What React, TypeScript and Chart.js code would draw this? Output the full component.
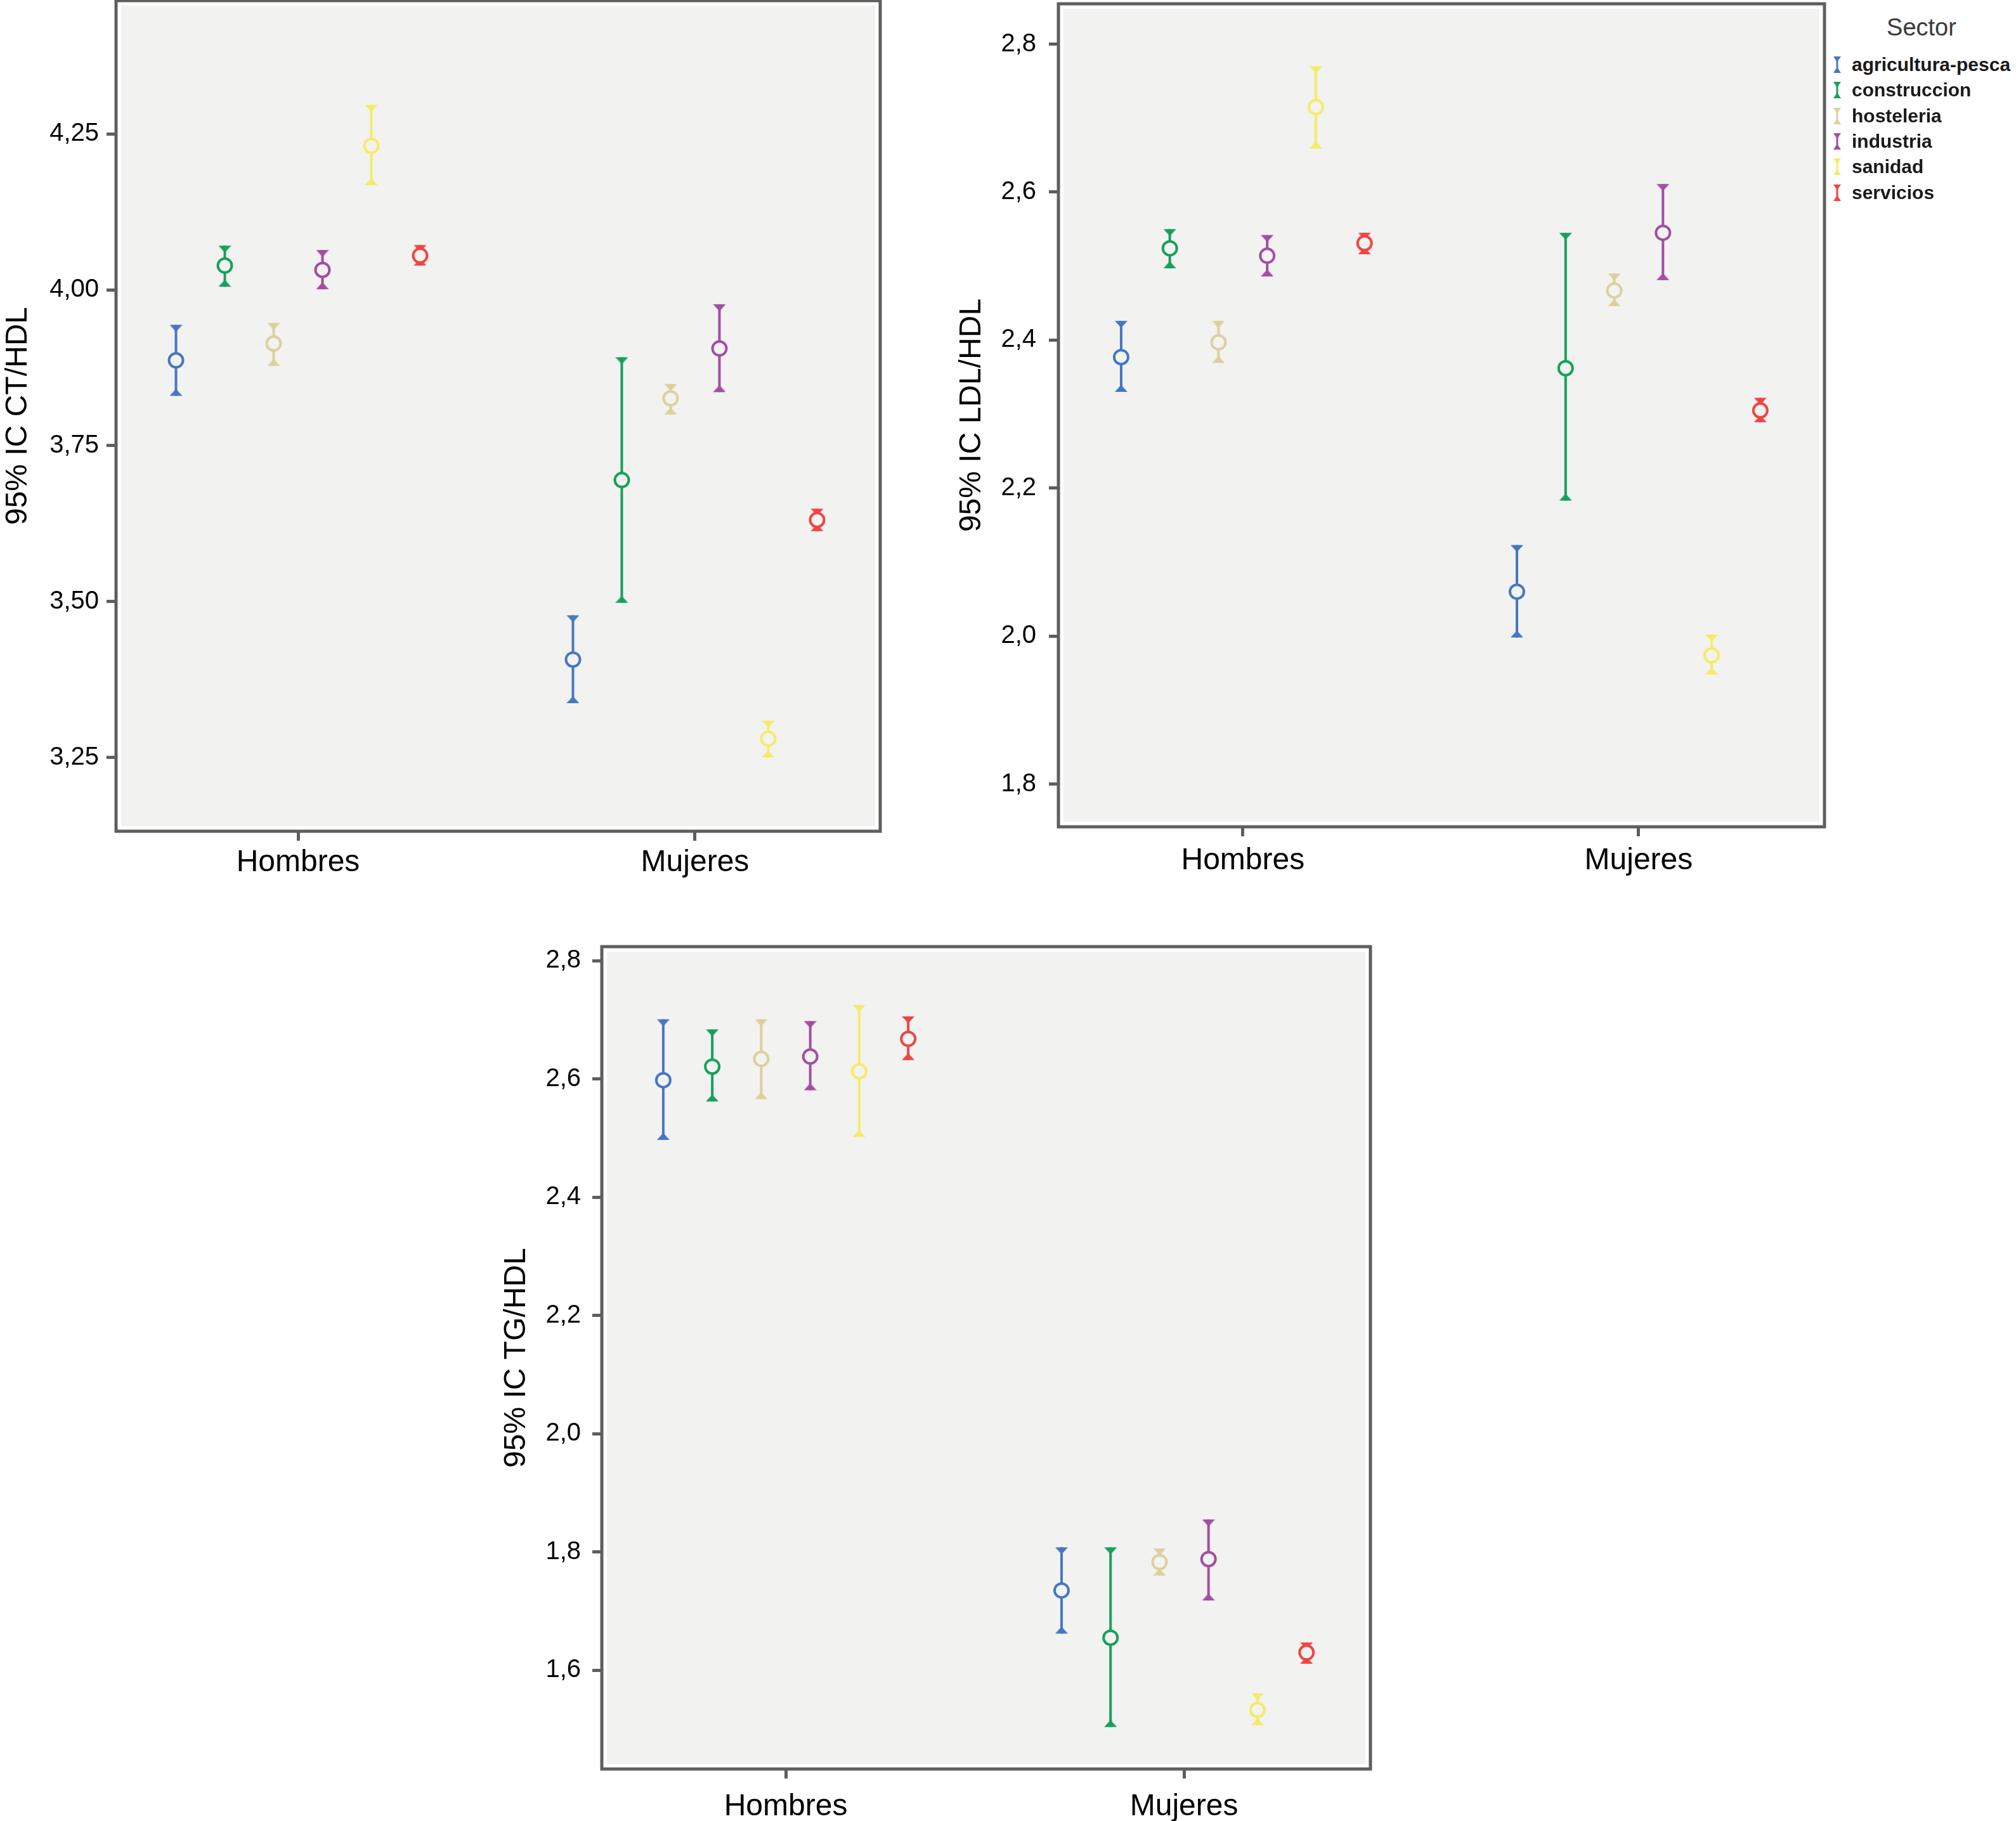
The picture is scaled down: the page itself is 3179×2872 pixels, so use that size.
import React, { useEffect, useRef } from 'react';
import { Chart, registerables } from 'chart.js';

Chart.register(...registerables);

// ---------- data ----------
const sectors = ['agricultura-pesca', 'construccion', 'hosteleria', 'industria', 'sanidad', 'servicios'];
const sexCategories = ['Hombres', 'Mujeres'];
const sectorColors = ['#4676c4', '#17a05c', '#ddd09e', '#a24ea4', '#f4ec68', '#ef4545'];

// CT/HDL
const ctMeanHombres = [3.887, 4.039, 3.914, 4.032, 4.231, 4.055];
const ctLowHombres = [3.83, 4.005, 3.878, 4.001, 4.168, 4.039];
const ctHighHombres = [3.944, 4.071, 3.947, 4.064, 4.297, 4.072];
const ctMeanMujeres = [3.407, 3.695, 3.826, 3.906, 3.28, 3.631];
const ctLowMujeres = [3.337, 3.498, 3.8, 3.836, 3.25, 3.613];
const ctHighMujeres = [3.478, 3.892, 3.849, 3.977, 3.309, 3.649];
const ctTicks = [3.25, 3.5, 3.75, 4.0, 4.25];

// LDL/HDL
const ldlMeanHombres = [2.377, 2.524, 2.397, 2.514, 2.715, 2.531];
const ldlLowHombres = [2.33, 2.497, 2.369, 2.486, 2.659, 2.516];
const ldlHighHombres = [2.426, 2.55, 2.426, 2.542, 2.77, 2.545];
const ldlMeanMujeres = [2.06, 2.362, 2.467, 2.545, 1.974, 2.305];
const ldlLowMujeres = [1.998, 2.183, 2.446, 2.481, 1.948, 2.289];
const ldlHighMujeres = [2.123, 2.545, 2.49, 2.611, 2.002, 2.322];
const ldlTicks = [1.8, 2.0, 2.2, 2.4, 2.6, 2.8];

// TG/HDL
const tgMeanHombres = [2.598, 2.621, 2.634, 2.638, 2.613, 2.668];
const tgLowHombres = [2.497, 2.562, 2.566, 2.581, 2.502, 2.632];
const tgHighHombres = [2.701, 2.684, 2.701, 2.698, 2.725, 2.706];
const tgMeanMujeres = [1.735, 1.655, 1.783, 1.788, 1.533, 1.63];
const tgLowMujeres = [1.662, 1.504, 1.76, 1.718, 1.507, 1.611];
const tgHighMujeres = [1.808, 1.808, 1.806, 1.855, 1.561, 1.647];
const tgTicks = [1.6, 1.8, 2.0, 2.2, 2.4, 2.6, 2.8];

// ---------- style ----------
const FONT = "'Liberation Sans', Arial, Helvetica, sans-serif";
const PLOT_BG = '#f2f2f0';
const FRAME = '#5e5e5e';
const SERIES_SPACING = 0.123;

function makeCap(color: string) {
  const c = document.createElement('canvas');
  c.width = 20;
  c.height = 24;
  const g = c.getContext('2d')!;
  g.fillStyle = color;
  g.beginPath();
  g.moveTo(0, 12);
  g.lineTo(20, 12);
  g.lineTo(10, 23);
  g.closePath();
  g.fill();
  return c;
}

const framePlugin = {
  id: 'spssFrame',
  beforeDraw(chart: any) {
    const { ctx, chartArea: a } = chart;
    ctx.save();
    ctx.fillStyle = PLOT_BG;
    const inset = 8;
    ctx.fillRect(a.left + inset, a.top + inset, a.right - a.left - 2 * inset, a.bottom - a.top - 2 * inset);
    ctx.restore();
  },
  afterDraw(chart: any) {
    const { ctx, chartArea: a } = chart;
    ctx.save();
    ctx.strokeStyle = FRAME;
    ctx.lineWidth = 5;
    ctx.strokeRect(a.left, a.top, a.right - a.left, a.bottom - a.top);
    ctx.restore();
  },
};

type PanelProps = {
  left: number; top: number; width: number; height: number;
  padTop: number; padRight: number; yAxisWidth: number; xAxisHeight: number;
  xMin: number; xMax: number; yMin: number; yMax: number;
  yTicks: number[]; decimals: number; yTitle: string;
  titlePad: number; tickPad: number; xLabelPad: number;
  meanH: number[]; lowH: number[]; highH: number[];
  meanM: number[]; lowM: number[]; highM: number[];
};

function Panel(p: PanelProps) {
  const ref = useRef<HTMLCanvasElement>(null);
  useEffect(() => {
    const groups = [
      { mean: p.meanH, low: p.lowH, high: p.highH },
      { mean: p.meanM, low: p.lowM, high: p.highM },
    ];
    const datasets: any[] = [];
    sectors.forEach((name, s) => {
      const offset = (s - 2.5) * SERIES_SPACING;
      const whisker: any[] = [];
      const means: any[] = [];
      groups.forEach((g, gi) => {
        const x = gi + offset;
        if (gi > 0) whisker.push({ x, y: null });
        whisker.push({ x, y: g.low[s] }, { x, y: g.high[s] });
        means.push({ x, y: g.mean[s] });
      });
      const color = sectorColors[s];
      const cap = makeCap(color);
      datasets.push({
        label: name,
        data: means,
        showLine: false,
        pointStyle: 'circle',
        pointRadius: 11,
        pointBorderWidth: 4,
        pointBorderColor: color,
        pointBackgroundColor: PLOT_BG,
        order: 0,
      });
      datasets.push({
        label: name + ' IC',
        data: whisker,
        showLine: true,
        spanGaps: false,
        borderColor: color,
        borderWidth: 4,
        pointStyle: cap,
        pointRadius: 6,
        pointRotation: (ctx: any) => (ctx.dataIndex % 3 === 0 ? 180 : 0),
        order: 1,
      });
    });

    const chart = new Chart(ref.current!, {
      type: 'scatter',
      data: { datasets },
      plugins: [framePlugin],
      options: {
        animation: false,
        responsive: false,
        devicePixelRatio: 1,
        layout: { autoPadding: false, padding: { top: p.padTop, right: p.padRight, left: 0, bottom: 0 } },
        plugins: { legend: { display: false }, tooltip: { enabled: false } },
        scales: {
          x: {
            type: 'linear',
            min: p.xMin,
            max: p.xMax,
            afterBuildTicks: (scale: any) => {
              scale.ticks = sexCategories.map((_, i) => ({ value: i }));
            },
            afterFit: (scale: any) => {
              scale.height = p.xAxisHeight;
              scale.paddingLeft = 0;
              scale.paddingRight = 0;
            },
            ticks: {
              callback: (v: any) => sexCategories[Math.round(Number(v))] ?? '',
              font: { family: FONT, size: 48 },
              color: '#000',
              padding: p.xLabelPad,
              maxRotation: 0,
              autoSkip: false,
            },
            grid: { drawOnChartArea: false, drawTicks: true, tickLength: 15, tickWidth: 5, tickColor: FRAME },
            border: { display: false },
          },
          y: {
            type: 'linear',
            min: p.yMin,
            max: p.yMax,
            afterBuildTicks: (scale: any) => {
              scale.ticks = p.yTicks.map((v) => ({ value: v }));
            },
            afterFit: (scale: any) => {
              scale.width = p.yAxisWidth;
              scale.paddingTop = 0;
              scale.paddingBottom = 0;
            },
            ticks: {
              callback: (v: any) => Number(v).toFixed(p.decimals).replace('.', ','),
              font: { family: FONT, size: 40 },
              color: '#000',
              padding: p.tickPad,
              autoSkip: false,
            },
            grid: { drawOnChartArea: false, drawTicks: true, tickLength: 15, tickWidth: 5, tickColor: FRAME },
            border: { display: false },
            title: {
              display: true,
              text: p.yTitle,
              font: { family: FONT, size: 48 },
              color: '#000',
              padding: { top: p.titlePad, bottom: 0 },
            },
          },
        },
      } as any,
    });
    return () => chart.destroy();
  }, []);
  return (
    <canvas
      ref={ref}
      width={p.width}
      height={p.height}
      style={{ position: 'absolute', left: p.left, top: p.top, width: p.width, height: p.height }}
    />
  );
}

function LegendIcon({ color }: { color: string }) {
  return (
    <svg width={14} height={28} viewBox="0 0 14 28" style={{ position: 'absolute', left: -30, top: -14 }}>
      <line x1={7} y1={2} x2={7} y2={26} stroke={color} strokeWidth={3} />
      <polygon points="1,1 13,1 7,10" fill={color} />
      <polygon points="1,27 13,27 7,18" fill={color} />
    </svg>
  );
}

export default function App() {
  useEffect(() => {
    document.body.style.margin = '0';
  }, []);
  return (
    <div style={{ position: 'absolute', left: 0, top: 0, width: 3179, height: 2872, background: '#fff', overflow: 'hidden' }}>
      <Panel
        left={0} top={0} width={1420} height={1400}
        padTop={1} padRight={32} yAxisWidth={183} xAxisHeight={89}
        xMin={-0.4585} xMax={1.4665} yMin={3.1316} yMax={4.464}
        yTicks={ctTicks} decimals={2} yTitle="95% IC CT/HDL"
        titlePad={0} tickPad={12} xLabelPad={6}
        meanH={ctMeanHombres} lowH={ctLowHombres} highH={ctHighHombres}
        meanM={ctMeanMujeres} lowM={ctLowMujeres} highM={ctHighMujeres}
      />
      <Panel
        left={1480} top={0} width={1420} height={1400}
        padTop={6} padRight={23} yAxisWidth={189} xAxisHeight={96}
        xMin={-0.466} xMax={1.4696} yMin={1.7422} yMax={2.8545}
        yTicks={ldlTicks} decimals={1} yTitle="95% IC LDL/HDL"
        titlePad={24} tickPad={20} xLabelPad={10}
        meanH={ldlMeanHombres} lowH={ldlLowHombres} highH={ldlHighHombres}
        meanM={ldlMeanMujeres} lowM={ldlLowMujeres} highM={ldlHighMujeres}
      />
      <Panel
        left={760} top={1450} width={1422} height={1422}
        padTop={43} padRight={21} yAxisWidth={189} xAxisHeight={82}
        xMin={-0.4618} xMax={1.468} yMin={1.433} yMax={2.8239}
        yTicks={tgTicks} decimals={1} yTitle="95% IC TG/HDL"
        titlePad={26} tickPad={18} xLabelPad={16}
        meanH={tgMeanHombres} lowH={tgLowHombres} highH={tgHighHombres}
        meanM={tgMeanMujeres} lowM={tgLowMujeres} highM={tgHighMujeres}
      />
      <div
        style={{
          position: 'absolute', left: 2930, top: 24, width: 200, textAlign: 'center',
          fontFamily: FONT, fontSize: 38, lineHeight: '38px', color: '#3a3a3a',
        }}
      >
        Sector
      </div>
      {sectors.map((name, i) => (
        <div
          key={name}
          style={{
            position: 'absolute', left: 2920, top: 102 + i * 40.3 - 15, height: 30,
            fontFamily: FONT, fontSize: 30, fontWeight: 700, lineHeight: '30px', color: '#1a1a1a',
            whiteSpace: 'nowrap',
          }}
        >
          <div style={{ position: 'relative', top: 15 }}>
            <LegendIcon color={sectorColors[i]} />
          </div>
          {name}
        </div>
      ))}
    </div>
  );
}
